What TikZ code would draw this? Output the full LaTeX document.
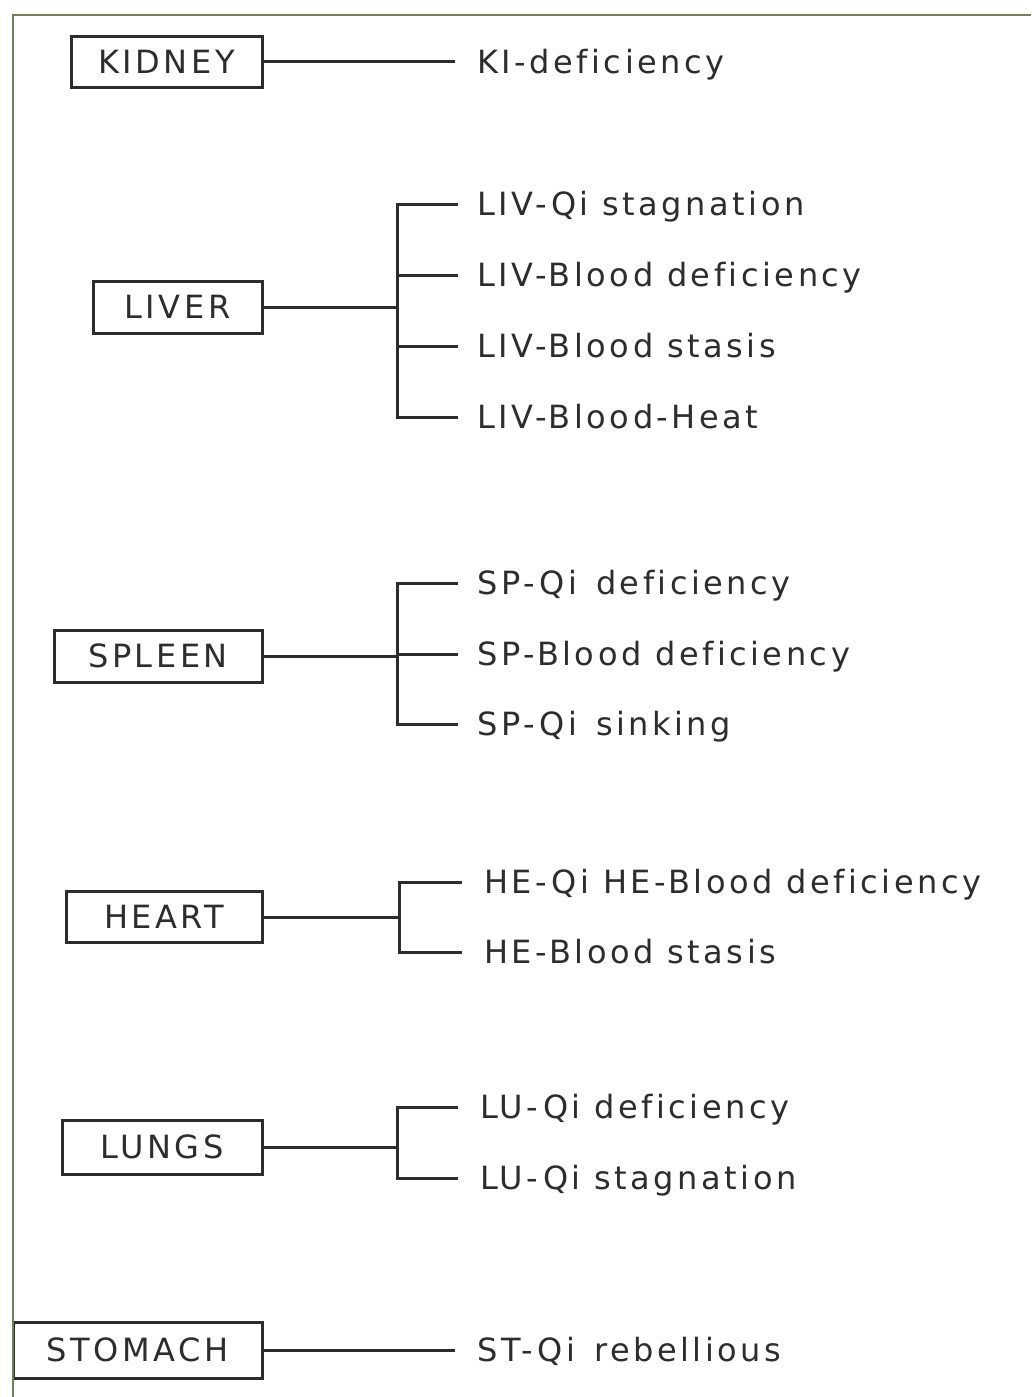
\documentclass[tikz,border=0pt]{standalone}
\usepackage{fontspec}
\newfontfamily\lblfont{DejaVu Sans}[LetterSpace=11, Ligatures={NoCommon}]
\begin{document}
\begin{tikzpicture}[x=1pt,y=-1pt,
  ink/.style={draw=inkgray, line width=3},
  organ/.style={ink, rectangle, inner sep=0, text=inkgray,
    font=\lblfont\fontsize{32}{38}\selectfont, text height=23, text depth=0},
  item/.style={anchor=west, inner sep=0, text=inkgray,
    font=\lblfont\fontsize{32}{38}\selectfont, text height=23, text depth=0},
  tie/.style={ink, line cap=butt}]
\definecolor{inkgray}{RGB}{45,45,45}
\definecolor{framegreen}{RGB}{110,128,92}
\useasboundingbox (0,0) rectangle (1031,1397);
\fill[white] (0,0) rectangle (1031,1397);

% organ boxes
\node[organ, minimum width=191, minimum height=50] (kidney)  at (166.5,62) {KIDNEY};
\node[organ, minimum width=169, minimum height=52] (liver)   at (177.5,307) {LIVER};
\node[organ, minimum width=208, minimum height=52] (spleen)  at (158,656) {SPLEEN};
\node[organ, minimum width=196, minimum height=51] (heart)   at (164,917) {HEART};
\node[organ, minimum width=200, minimum height=54] (lungs)   at (162,1147) {LUNGS};
\node[organ, minimum width=249, minimum height=56] (stomach) at (137.5,1350) {STOMACH};

% patterns
\node[item] (ki)  at (477,62)  {KI-deficiency};
\node[item] (lv1) at (477,204) {LIV-Qi stagnation};
\node[item] (lv2) at (477,275) {LIV-Blood deficiency};
\node[item] (lv3) at (477,346) {LIV-Blood stasis};
\node[item] (lv4) at (477,417) {LIV-Blood-Heat};
\node[item] (sp1) at (477,583) {SP-Qi\, deficiency};
\node[item] (sp2) at (477,654) {SP-Blood deficiency};
\node[item] (sp3) at (477,724) {SP-Qi\, sinking};
\node[item] (he1) at (484,882) {HE-Qi HE-Blood deficiency};
\node[item] (he2) at (484,952) {HE-Blood stasis};
\node[item] (lu1) at (480,1107) {LU-Qi deficiency};
\node[item] (lu2) at (480,1178) {LU-Qi stagnation};
\node[item] (st)  at (477,1350) {ST-Qi\, rebellious};

% junction points
\coordinate (jliv) at (397,307);
\coordinate (jspl) at (397,656);
\coordinate (jhea) at (399,917);
\coordinate (jlun) at (397,1147);

% connectors
\draw[tie] (kidney.east) -- ([xshift=-22]ki.west);
\draw[tie] (stomach.east) -- ([xshift=-22]st.west);

\draw[tie] (liver.east) -- (jliv);
\draw[tie] ([xshift=-19]lv1.west) -| (jliv) |- ([xshift=-19]lv4.west);
\draw[tie] (jliv |- lv2.west) -- ([xshift=-19]lv2.west);
\draw[tie] (jliv |- lv3.west) -- ([xshift=-19]lv3.west);

\draw[tie] (spleen.east) -- (jspl);
\draw[tie] ([xshift=-19]sp1.west) -| (jspl) |- ([xshift=-19]sp3.west);
\draw[tie] (jspl |- sp2.west) -- ([xshift=-19]sp2.west);

\draw[tie] (heart.east) -- (jhea);
\draw[tie] ([xshift=-22]he1.west) -| (jhea) |- ([xshift=-22]he2.west);

\draw[tie] (lungs.east) -- (jlun);
\draw[tie] ([xshift=-22]lu1.west) -| (jlun) |- ([xshift=-22]lu2.west);

% page frame
\draw[framegreen, line width=2.4] (13,1397) -- (13,15) -- (1031,15);
\end{tikzpicture}
\end{document}
